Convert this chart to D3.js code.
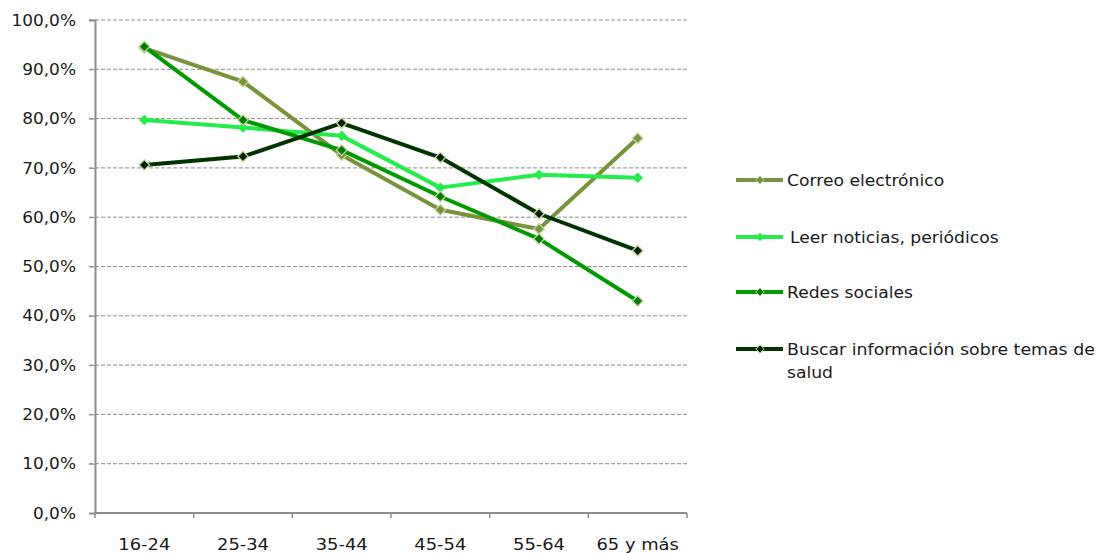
<!DOCTYPE html>
<html>
<head>
<meta charset="utf-8">
<script src="https://cdn.jsdelivr.net/npm/d3@7"></script>
<style>
  html, body { margin: 0; padding: 0; background: #fff; }
  svg { display: block; font-family: "DejaVu Sans", Verdana, sans-serif; }
</style>
</head>
<body>
<svg id="chart" width="1101" height="553"></svg>
<script>
// Age groups on the x axis
const ageGroups = ["16-24", "25-34", "35-44", "45-54", "55-64", "65 y más"];

// Share of internet users doing each activity, by age group (%)
const correo   = [94.3, 87.5, 72.6, 61.5, 57.6, 76.0];
const noticias = [79.7, 78.2, 76.5, 66.0, 68.6, 68.0];
const redes    = [94.6, 79.7, 73.6, 64.2, 55.6, 43.0];
const salud    = [70.6, 72.3, 79.1, 72.1, 60.7, 53.2];

const seriesNames = [
  "Correo electrónico",
  "Leer noticias, periódicos",
  "Redes sociales",
  "Buscar información sobre temas de salud"
];

const yTicks = [0, 10, 20, 30, 40, 50, 60, 70, 80, 90, 100];

const series = [
  { name: seriesNames[0], values: correo,   color: "#77933c", marker: "#77933c", stroke: "#c3d69b" },
  { name: seriesNames[1], values: noticias, color: "#25eb4b", marker: "#25eb4b", stroke: null },
  { name: seriesNames[2], values: redes,    color: "#009a00", marker: "#007a00", stroke: "#c3d69b" },
  { name: seriesNames[3], values: salud,    color: "#003300", marker: "#002200", stroke: "#c3d69b" }
];

const svg = d3.select("#chart");
const plot = { left: 95, right: 687, top: 20, bottom: 513 };

const x = d3.scaleBand().domain(ageGroups).range([plot.left, plot.right]);
const y = d3.scaleLinear().domain([0, 100]).range([plot.bottom, plot.top]);
const fmt = v => d3.format(".1f")(v).replace(".", ",") + "%";

// Dashed horizontal gridlines
svg.append("g")
  .selectAll("line")
  .data(yTicks.filter(t => t > 0))
  .join("line")
  .attr("x1", plot.left - 6).attr("x2", plot.right)
  .attr("y1", d => y(d)).attr("y2", d => y(d))
  .attr("stroke", "#8c8c8c").attr("stroke-width", 1)
  .attr("stroke-dasharray", "4,2");

// Y axis
const yAxis = svg.append("g")
  .attr("transform", `translate(${plot.left},0)`)
  .call(d3.axisLeft(y).tickValues(yTicks).tickFormat(fmt).tickSize(6).tickPadding(0));
yAxis.select(".domain").attr("stroke", "#8c8c8c").attr("stroke-width", 2);
yAxis.selectAll(".tick line").attr("stroke", "#8c8c8c");
yAxis.selectAll(".tick text")
  .attr("x", 0)
  .attr("transform", "translate(-19,0) scale(1.06,1)")
  .attr("font-size", 16).attr("fill", "#1a1a1a")
  .attr("font-family", "DejaVu Sans, Verdana, sans-serif");

// X axis with ticks at band boundaries
const xAxisG = svg.append("g").attr("transform", `translate(0,${plot.bottom})`);
xAxisG.append("line")
  .attr("x1", plot.left).attr("x2", plot.right)
  .attr("y1", 0).attr("y2", 0)
  .attr("stroke", "#8c8c8c").attr("stroke-width", 2);
const boundaries = ageGroups.map(d => x(d)).concat([x(ageGroups[ageGroups.length - 1]) + x.bandwidth()]);
xAxisG.selectAll("line.tk")
  .data(boundaries)
  .join("line").attr("class", "tk")
  .attr("x1", d => d).attr("x2", d => d)
  .attr("y1", 0).attr("y2", 5)
  .attr("stroke", "#8c8c8c").attr("stroke-width", 1.5);
xAxisG.selectAll("text")
  .data(ageGroups)
  .join("text")
  .attr("transform", d => `translate(${x(d) + x.bandwidth() / 2},37) scale(1.12,1)`)
  .attr("text-anchor", "middle")
  .attr("font-size", 16).attr("fill", "#1a1a1a")
  .text(d => d);

const cx = d => x(d) + x.bandwidth() / 2;
const line = d3.line().x((v, i) => cx(ageGroups[i])).y(v => y(v));
const diamond = d3.symbol().type(d3.symbolDiamond2).size(70);

// Lines with diamond markers
const sg = svg.append("g").selectAll("g").data(series).join("g");
sg.append("path")
  .attr("d", d => line(d.values))
  .attr("fill", "none")
  .attr("stroke", d => d.color)
  .attr("stroke-width", 4)
  .attr("stroke-linejoin", "round");
sg.each(function (s) {
  d3.select(this).selectAll("path.mk")
    .data(s.values)
    .join("path").attr("class", "mk")
    .attr("d", diamond)
    .attr("transform", (v, i) => `translate(${cx(ageGroups[i])},${y(v)})`)
    .attr("fill", s.marker)
    .attr("stroke", s.stroke || "none")
    .attr("stroke-width", 1.3);
});

// Legend
const legendY = [180, 237, 292, 349];
const lg = svg.append("g").selectAll("g").data(series).join("g")
  .attr("transform", (d, i) => `translate(736,${legendY[i]})`);
lg.append("line")
  .attr("x1", 0).attr("x2", 47).attr("y1", 0).attr("y2", 0)
  .attr("stroke", d => d.color).attr("stroke-width", 4);
lg.append("path")
  .attr("d", d3.symbol().type(d3.symbolDiamond2).size(45))
  .attr("transform", "translate(24,0)")
  .attr("fill", d => d.marker)
  .attr("stroke", d => d.stroke || "none")
  .attr("stroke-width", 1);
const lt = lg.append("text")
  .attr("transform", (d, i) => `translate(${i === 1 ? 54 : 51},6) scale(1.04,1)`)
  .attr("font-size", 16.5).attr("fill", "#1a1a1a");
lt.each(function (d) {
  const t = d3.select(this);
  if (d.name.length > 30) {
    // long label wraps onto a second line and is fitted to the legend width
    t.append("tspan").attr("x", 0).attr("dy", 0)
      .attr("textLength", 296).attr("lengthAdjust", "spacingAndGlyphs")
      .text("Buscar información sobre temas de");
    t.append("tspan").attr("x", 0).attr("dy", 23).text("salud");
  } else {
    t.text(d.name);
  }
});
</script>
</body>
</html>
